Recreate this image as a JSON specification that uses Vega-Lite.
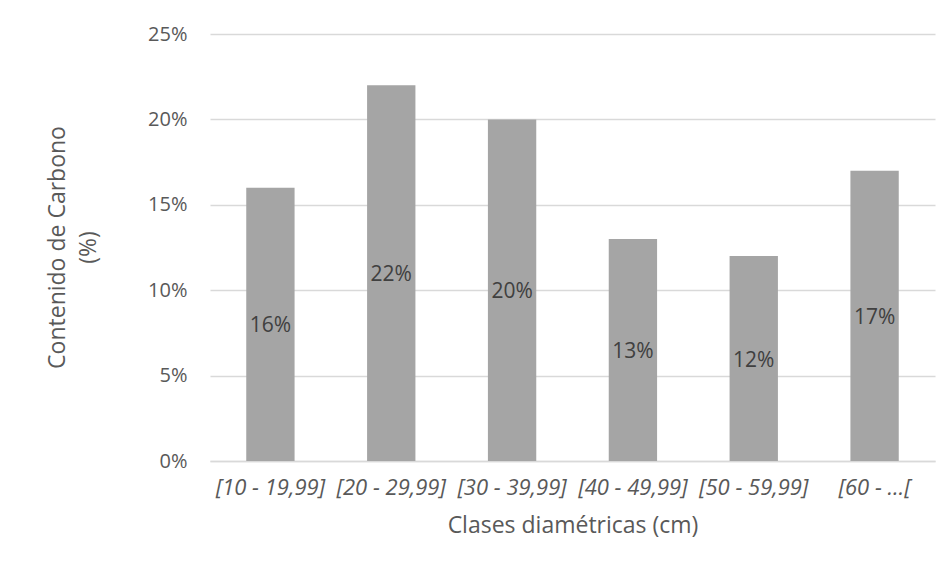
{
  "$schema": "https://vega.github.io/schema/vega-lite/v6.json",
  "autosize": "none",
  "width": 725,
  "height": 427,
  "padding": {"left": 210, "top": 34, "right": 17, "bottom": 115},
  "background": "#ffffff",
  "config": {
    "view": {"stroke": null},
    "font": "Open Sans",
    "axis": {"labelFont": "Open Sans", "titleFont": "Open Sans", "labelColor": "#595959", "titleColor": "#595959", "titleFontWeight": "normal"}
  },
  "data": {
    "values": [
      {"clase": "[10 - 19,99]", "carbono": 0.16},
      {"clase": "[20 - 29,99]", "carbono": 0.22},
      {"clase": "[30 - 39,99]", "carbono": 0.20},
      {"clase": "[40 - 49,99]", "carbono": 0.13},
      {"clase": "[50 - 59,99]", "carbono": 0.12},
      {"clase": "[60 - …[", "carbono": 0.17}
    ]
  },
  "encoding": {
    "x": {
      "field": "clase",
      "type": "nominal",
      "sort": null,
      "scale": {"paddingInner": 0.6, "paddingOuter": 0.3},
      "axis": {
        "title": "Clases diamétricas (cm)",
        "titleFontSize": 23,
        "titlePadding": 16,
        "labelAngle": 0,
        "labelFontSize": 22,
        "labelFontStyle": "italic",
        "labelPadding": 16,
        "ticks": false,
        "domainColor": "#d9d9d9",
        "domainWidth": 1.3
      }
    }
  },
  "layer": [
    {
      "mark": {"type": "bar", "color": "#a5a5a5"},
      "encoding": {
        "y": {
          "field": "carbono",
          "type": "quantitative",
          "scale": {"domain": [0, 0.25]},
          "axis": {
            "title": ["Contenido de Carbono", "(%)"],
            "titleFontSize": 23,
            "titleLineHeight": 31,
            "titleX": -153,
            "titleY": 213,
            "titleBaseline": "middle",
            "titleAlign": "center",
            "titleAngle": -90,
            "format": ".0%",
            "values": [0, 0.05, 0.1, 0.15, 0.2, 0.25],
            "labelFontSize": 20,
            "labelPadding": 23,
            "ticks": false,
            "domain": false,
            "gridColor": "#d9d9d9",
            "gridWidth": 1.3
          }
        }
      }
    },
    {
      "mark": {"type": "text", "fontSize": 21, "color": "#404040", "baseline": "middle", "dy": 2},
      "encoding": {
        "y": {
          "field": "carbono",
          "type": "quantitative",
          "scale": {"domain": [0, 0.5]},
          "axis": null
        },
        "text": {"field": "carbono", "type": "quantitative", "format": ".0%"}
      }
    }
  ],
  "resolve": {"scale": {"y": "independent"}}
}
